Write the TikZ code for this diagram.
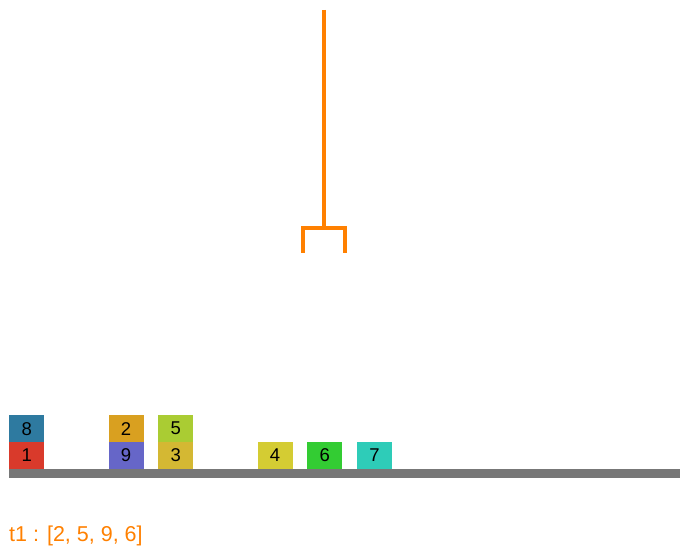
\documentclass[tikz,border=0pt]{standalone}
\usepackage{xcolor}
\usepackage{fontspec}
\setmainfont{Liberation Sans}
\usetikzlibrary{positioning}

\definecolor{craneorange}{HTML}{FF8000}
\definecolor{floorgray}{HTML}{777777}
\definecolor{c1}{HTML}{D93A2B}
\definecolor{c2}{HTML}{D9A020}
\definecolor{c3}{HTML}{D4B833}
\definecolor{c4}{HTML}{D4CC33}
\definecolor{c5}{HTML}{AACC33}
\definecolor{c6}{HTML}{33CC33}
\definecolor{c7}{HTML}{2ECCB8}
\definecolor{c8}{HTML}{2E7AA0}
\definecolor{c9}{HTML}{6666C8}

\begin{document}
\begin{tikzpicture}[
    x=1pt, y=1pt,
    node distance=0pt,
    font=\fontsize{18.5}{18.5}\selectfont,
    % block style
    block/.style={rectangle, draw=none, minimum width=35pt, minimum height=26.5pt, inner sep=0pt, text centered},
    crane/.style={draw=craneorange, line width=4.5pt},
    label/.style={text=craneorange, font=\fontsize{21.5}{21.5}\selectfont, inner sep=0pt, anchor=base west}
]
    \useasboundingbox (0,0) rectangle (680,546);

    % --- floor ---
    \fill[floorgray] (9,68) rectangle (680,77);

    % --- blocks on the floor ---
    \node[block, fill=c1, anchor=south west] (b1) at (9,77) {1};
    \node[block, fill=c9, anchor=south west] (b9) at (108.4,77) {9};
    \node[block, fill=c3, anchor=south west] (b3) at (158,77) {3};
    \node[block, fill=c4, anchor=south west] (b4) at (257.4,77) {4};
    \node[block, fill=c6, anchor=south west] (b6) at (307,77) {6};
    \node[block, fill=c7, anchor=south west] (b7) at (356.7,77) {7};

    % stacked blocks
    \node[block, fill=c8, above=of b1] (b8) {8};
    \node[block, fill=c2, above=of b9] (b2) {2};
    \node[block, fill=c5, above=of b3] (b5) {5};

    % --- crane ---
    \coordinate (top) at (324,536);
    \coordinate (hook) at (324,318);
    \draw[crane] (top) -- (hook);
    \draw[crane, line join=miter] (303,293) -- (303,318) -- (345,318) -- (345,293);

    % --- status text ---
    \node[label] (status) at (9,4) {t1 : [2, 5, 9, 6]};
\end{tikzpicture}
\end{document}
